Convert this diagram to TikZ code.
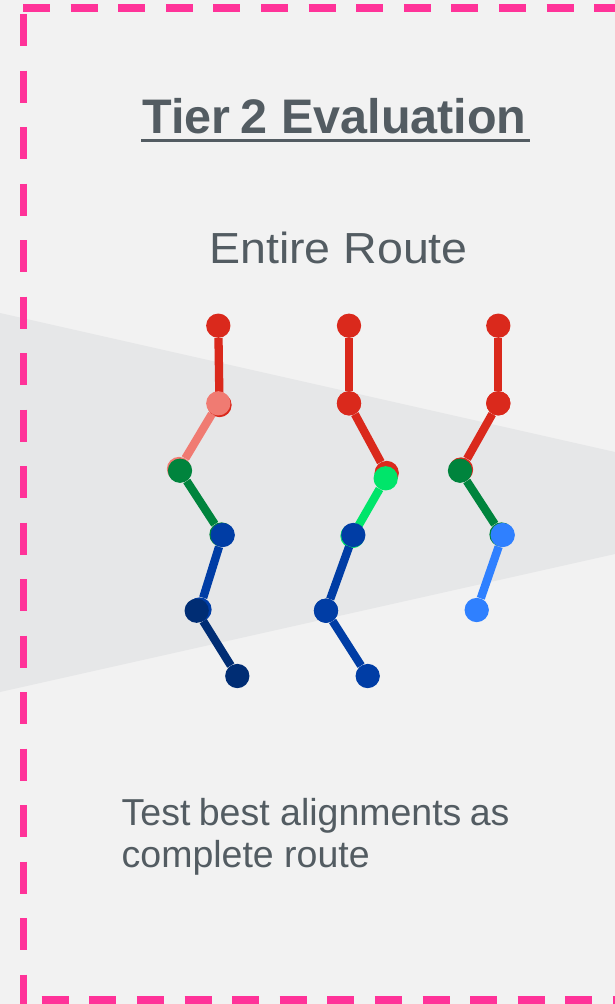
\documentclass[tikz,border=0pt]{standalone}
\usepackage{fontspec}
\setmainfont{Liberation Sans}
\definecolor{bgpaper}{HTML}{F2F2F2}
\definecolor{beam}{HTML}{E6E7E8}
\definecolor{framepink}{HTML}{FF3399}
\definecolor{slate}{HTML}{535C62}
\definecolor{segred}{HTML}{DA291C}
\definecolor{segsalmon}{HTML}{F07B72}
\definecolor{seggreen}{HTML}{00843D}
\definecolor{seglime}{HTML}{00E56A}
\definecolor{segblue}{HTML}{003DA5}
\definecolor{segnavy}{HTML}{002D74}
\definecolor{segsky}{HTML}{2F80FF}
\tikzset{
  dot/.style={circle, fill=#1, draw=none, inner sep=0pt, minimum size=24.3pt},
  link/.style={draw=#1, line width=8.3pt},
  hdash/.style={draw=framepink, line width=7.5pt, dash pattern=on 27pt off 20.6pt},
  vdash/.style={draw=framepink, line width=7pt, dash pattern=on 32pt off 24.5pt},
  txt/.style={text=slate, inner sep=0pt, outer sep=0pt}
}
% one link of a route: two end dots and the bar between them
\newcommand{\routelink}[5]{%
  \node[dot=#1] (#2) at #3 {};
  \node[dot=#1] (#4) at #5 {};
  \draw[link=#1] (#2) -- (#4);
}
\begin{document}
\begin{tikzpicture}[x=1pt, y=-1pt]
\useasboundingbox (0,0) rectangle (615,1004);
\fill[bgpaper] (0,0) rectangle (615,1004);
% light beam behind the routes
\fill[beam] (0,313) -- (615,452) -- (615,554) -- (0,692) -- cycle;
% dashed frame
\draw[hdash] (23,8) -- (640,8);
\draw[vdash] (23,14) -- (23,1004);
\draw[hdash] (41.7,1000) -- (640,1000);
% headings
\node[txt, anchor=base, font=\fontsize{48.5}{48.5}\selectfont\bfseries] (title) at (334.5,133.3) {Tier\hspace{-3pt} 2 Evaluation};
\draw[slate, line width=3.5pt] (141,140.3) -- (530,140.3);
\node[txt, anchor=base, font=\fontsize{43.5}{43.5}\selectfont] (sub) at (338.5,263.3) {\scalebox{1.07}[1]{Entire Route}};
% route 1
\routelink{segred}{a1}{(218.3,325.7)}{a2}{(219.5,405)}
\routelink{segsalmon}{a3}{(218.3,403.3)}{a4}{(179,469)}
\routelink{seggreen}{a5}{(180,470.7)}{a6}{(221.5,534.5)}
\routelink{segblue}{a7}{(222.7,535)}{a8}{(199.5,609.5)}
\routelink{segnavy}{a9}{(196.7,610.7)}{a10}{(237.3,676)}
% route 2
\routelink{segred}{b1}{(349,325.7)}{b2}{(349,403.3)}
\routelink{segred}{b3}{(349,403.3)}{b4}{(386.7,473)}
\routelink{seglime}{b5}{(385.7,478.3)}{b6}{(352.5,536)}
\routelink{segblue}{b7}{(353.3,535)}{b8}{(326,610.7)}
\routelink{segblue}{b9}{(326,610.7)}{b10}{(367.7,676)}
% route 3
\routelink{segred}{c1}{(498.3,325.7)}{c2}{(498.3,403.3)}
\routelink{segred}{c3}{(498.3,403.3)}{c4}{(461,469.5)}
\routelink{seggreen}{c5}{(460,470.7)}{c6}{(501.5,534.5)}
\routelink{segsky}{c7}{(502.7,535)}{c8}{(476.7,610)}
% caption
\node[txt, anchor=base west, font=\fontsize{37.5}{37.5}\selectfont] (cap1) at (121.7,825) {Test\hspace{-2pt} best alignments\hspace{-2pt} as};
\node[txt, anchor=base west, font=\fontsize{37.5}{37.5}\selectfont] (cap2) at (121.7,867.7) {complete route};
\end{tikzpicture}
\end{document}
